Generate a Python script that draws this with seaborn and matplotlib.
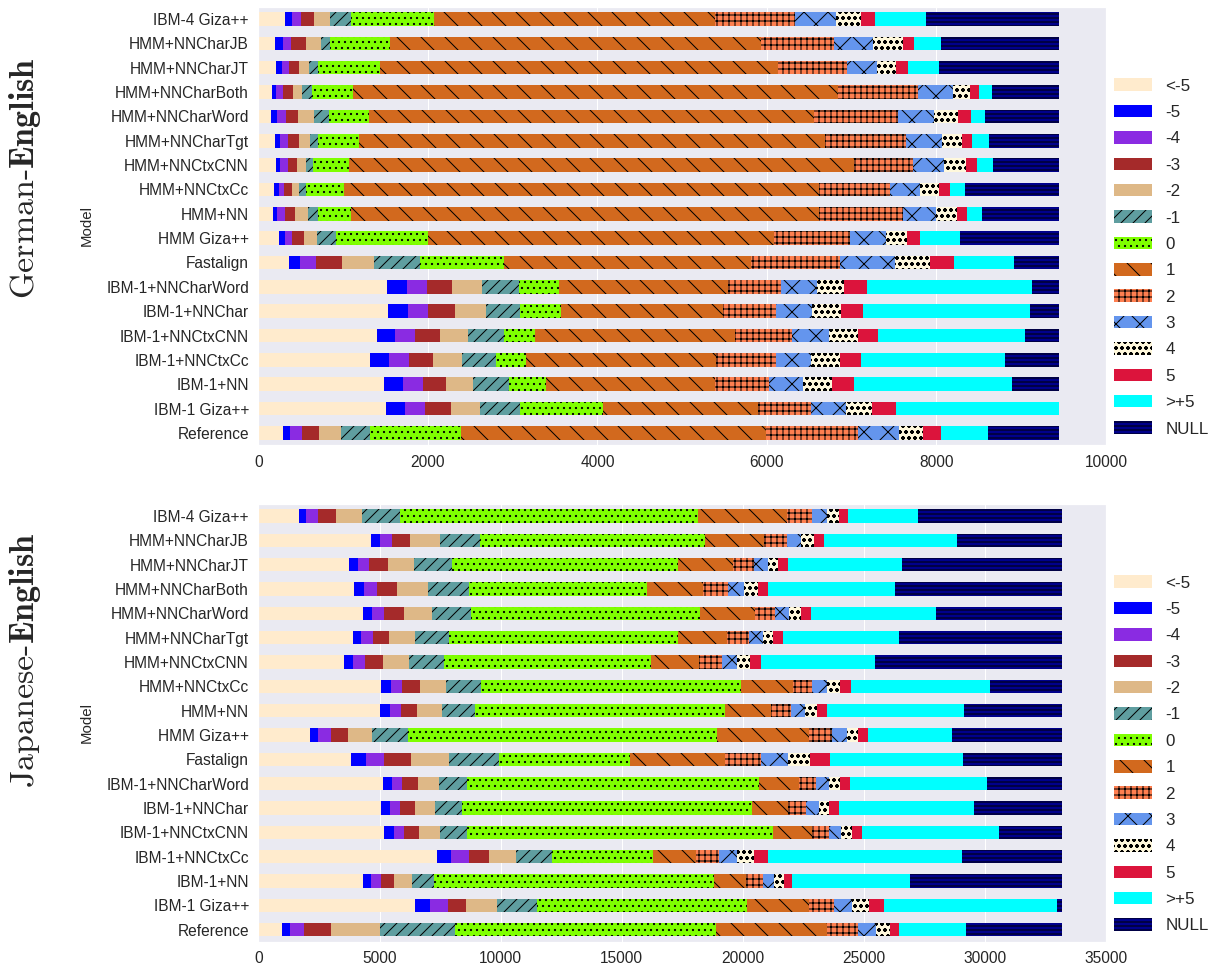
import numpy as np
import pandas as pd
import matplotlib
matplotlib.use("Agg")
import matplotlib.pyplot as plt
import seaborn as sns

# categories (alignment offsets) and models, top to bottom
categories = ["<-5", "-5", "-4", "-3", "-2", "-1", "0", "1", "2", "3", "4", "5", ">+5", "NULL"]
colors = ["blanchedalmond", "blue", "blueviolet", "brown", "burlywood", "cadetblue", "chartreuse",
          "chocolate", "coral", "cornflowerblue", "cornsilk", "crimson", "cyan", "darkblue"]
hatches = ["", "", "", "", "", "//", "..", "\\", "++", "x", "oo", "", "", "---"]

models = ["IBM-4 Giza++", "HMM+NNCharJB", "HMM+NNCharJT", "HMM+NNCharBoth", "HMM+NNCharWord",
          "HMM+NNCharTgt", "HMM+NNCtxCNN", "HMM+NNCtxCc", "HMM+NN", "HMM Giza++", "Fastalign",
          "IBM-1+NNCharWord", "IBM-1+NNChar", "IBM-1+NNCtxCNN", "IBM-1+NNCtxCc", "IBM-1+NN",
          "IBM-1 Giza++", "Reference"]

# German-English counts per model (same order as models)
de_counts = [
    [312, 86, 102, 153, 188, 247, 978, 3318, 942, 487, 295, 165, 601, 1567],
    [194, 94, 98, 173, 177, 106, 707, 4386, 860, 459, 346, 137, 315, 1390],
    [203, 71, 90, 118, 114, 106, 727, 4707, 809, 357, 220, 141, 362, 1417],
    [159, 47, 82, 118, 106, 118, 483, 5729, 939, 409, 204, 106, 153, 789],
    [147, 74, 99, 148, 185, 180, 468, 5250, 990, 428, 283, 161, 157, 872],
    [194, 62, 91, 130, 130, 94, 483, 5501, 958, 421, 232, 125, 193, 828],
    [206, 47, 94, 110, 106, 82, 421, 5957, 702, 365, 259, 130, 185, 777],
    [183, 59, 55, 98, 86, 79, 448, 5604, 843, 346, 224, 130, 180, 1107],
    [171, 51, 94, 118, 150, 114, 396, 5525, 986, 392, 240, 125, 173, 907],
    [245, 71, 82, 141, 150, 224, 1087, 4088, 892, 421, 251, 157, 468, 1166],
    [363, 130, 185, 303, 377, 545, 998, 2910, 1052, 648, 412, 283, 707, 530],
    [1522, 231, 232, 298, 358, 439, 463, 2003, 617, 424, 322, 274, 1940, 318],
    [1534, 231, 232, 318, 365, 401, 483, 1920, 624, 428, 342, 256, 1964, 345],
    [1404, 204, 236, 298, 330, 421, 365, 2368, 675, 432, 338, 236, 1735, 401],
    [1322, 219, 236, 287, 333, 409, 353, 2242, 707, 412, 342, 247, 1696, 636],
    [1478, 232, 227, 274, 326, 416, 441, 1994, 636, 404, 342, 259, 1858, 554],
    [1502, 224, 236, 306, 342, 471, 986, 1829, 621, 416, 310, 276, 1924, 0],
    [289, 86, 138, 200, 267, 333, 1072, 3608, 1077, 487, 283, 209, 554, 840],
]

# Japanese-English counts per model
ja_counts = [
    [1675, 305, 466, 771, 1073, 1568, 12305, 3671, 1044, 606, 483, 384, 2888, 5952],
    [4661, 342, 495, 771, 1209, 1691, 9281, 2446, 924, 602, 512, 413, 5499, 4344],
    [3725, 371, 466, 784, 1089, 1539, 9364, 2240, 883, 561, 454, 388, 4727, 6600],
    [3960, 413, 536, 825, 1250, 1691, 7355, 2339, 1031, 648, 590, 425, 5226, 6901],
    [4302, 384, 495, 813, 1155, 1609, 9488, 2256, 837, 578, 507, 400, 5144, 5222],
    [3890, 342, 495, 660, 1073, 1390, 9488, 2009, 891, 578, 441, 413, 4785, 6736],
    [3531, 388, 495, 714, 1101, 1444, 8551, 1980, 949, 619, 536, 425, 4719, 7739],
    [5074, 384, 466, 743, 1073, 1460, 10737, 2157, 784, 619, 512, 454, 5746, 2982],
    [5016, 400, 466, 660, 1019, 1374, 10341, 1910, 825, 578, 495, 413, 5639, 4055],
    [2145, 314, 524, 730, 961, 1485, 12788, 3807, 936, 606, 466, 413, 3465, 4550],
    [3836, 590, 743, 1114, 1568, 2075, 5433, 3890, 1502, 1097, 936, 813, 5499, 4096],
    [5127, 371, 413, 672, 854, 1167, 12074, 1638, 726, 524, 454, 400, 5664, 3106],
    [5057, 359, 425, 635, 809, 1101, 12004, 1485, 743, 536, 413, 413, 5569, 3642],
    [5198, 384, 441, 619, 850, 1114, 12651, 1596, 714, 507, 441, 413, 5651, 2611],
    [7367, 578, 743, 825, 1143, 1485, 4166, 1774, 920, 771, 672, 594, 8015, 4137],
    [4331, 330, 384, 565, 714, 908, 11579, 1320, 685, 483, 413, 342, 4843, 6295],
    [6476, 602, 730, 784, 1279, 1638, 8675, 2558, 1019, 755, 689, 631, 7124, 231],
    [974, 347, 549, 1143, 1992, 3094, 10808, 4591, 1279, 743, 553, 384, 2764, 3972],
]

sns.set_theme(style="darkgrid")
plt.rcParams["font.family"] = ["Liberation Sans", "DejaVu Sans"]
plt.rcParams["mathtext.fontset"] = "cm"

fig = plt.figure(figsize=(1219 / 72, 967 / 72), dpi=72)
ax_de = fig.add_axes([0.212, 0.5398, 0.6953, 0.453])
ax_ja = fig.add_axes([0.212, 0.0259, 0.6953, 0.453])


def stacked(ax, counts, xmax, step):
    df = pd.DataFrame(counts, columns=categories)
    cum = df.cumsum(axis=1)
    # draw from the longest cumulative bar down so each segment shows
    for cat, col, h in reversed(list(zip(categories, colors, hatches))):
        sns.barplot(x=cum[cat].values, y=models, color=col, hatch=h, saturation=1,
                    width=0.55, errorbar=None, edgecolor="black", linewidth=0,
                    label=cat, ax=ax, orient="h")
    ax.set_xlim(0, xmax)
    ax.set_xticks(np.arange(0, xmax + 1, step))
    ax.set_ylabel("Model", fontsize=15, labelpad=12)
    ax.set_xlabel("")
    ax.tick_params(axis="both", labelsize=15.5)
    handles, labels = ax.get_legend_handles_labels()
    ax.legend(handles[::-1], labels[::-1], loc="lower left", bbox_to_anchor=(1.0, 0.0),
              frameon=False, fontsize=17, handlelength=2.2, handleheight=0.75,
              labelspacing=0.66, borderaxespad=0.1)


stacked(ax_de, de_counts, 10000, 2000)
stacked(ax_ja, ja_counts, 35000, 5000)

fig.text(25 / 1219, 1 - 178 / 967, "German-$\\mathbf{English}$", rotation=90,
         ha="center", va="center", fontsize=34, family="cmr10")
fig.text(25 / 1219, 1 - 660 / 967, "Japanese-$\\mathbf{English}$", rotation=90,
         ha="center", va="center", fontsize=34, family="cmr10")

fig.savefig("out.png", dpi=72)
